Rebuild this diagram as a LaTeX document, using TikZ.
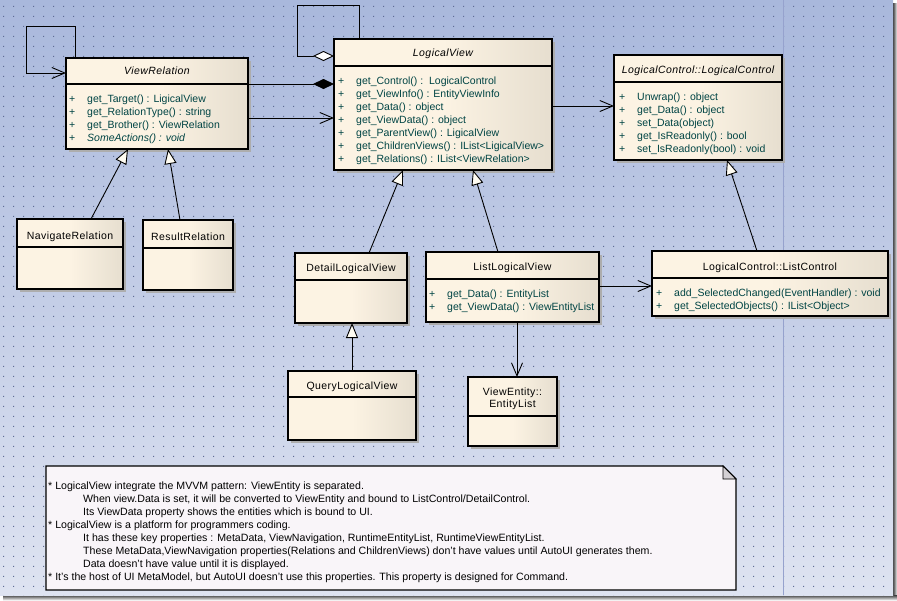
\documentclass[tikz,border=0pt]{standalone}
\usepackage{fontspec}
\setmainfont{Liberation Sans}
\newfontfamily\titlefont[LetterSpace=4]{Liberation Sans}
\usetikzlibrary{arrows.meta,shadows,patterns.meta,calc}

\definecolor{bgtop}{RGB}{169,184,220}
\definecolor{bgbot}{RGB}{222,227,241}
\definecolor{boxL}{RGB}{252,243,227}
\definecolor{boxR}{RGB}{230,222,207}
\definecolor{attrc}{RGB}{0,68,68}
\definecolor{dotc}{RGB}{95,108,150}
\definecolor{notefill}{RGB}{249,245,249}
\definecolor{foldc}{RGB}{212,208,212}
\definecolor{pageline}{RGB}{150,162,205}
\definecolor{trifill}{RGB}{255,252,242}

\tikzdeclarepattern{
  name=griddots,
  type=uncolored,
  bounding box={(0pt,0pt) and (10pt,10pt)},
  tile size={(10pt,10pt)},
  code={\fill (4.5pt,4.5pt) rectangle (5.5pt,5.5pt);}
}

\tikzset{
  umlbox/.style={draw=black, line width=1.1pt, inner sep=0pt, outer sep=0pt,
    anchor=north west, left color=boxL, right color=boxR, middle color=boxL,
    drop shadow={shadow xshift=3pt, shadow yshift=-3pt, fill=black!32, opacity=1}},
  ctitle/.style={font=\titlefont\fontsize{10.5}{12}\selectfont, inner sep=0pt, anchor=mid, text=black},
  attr/.style={font=\fontsize{10.5}{12}\selectfont, inner sep=0pt, anchor=mid west, text=attrc},
  divline/.style={draw=black, line width=1.1pt},
  notetext/.style={font=\fontsize{10.6}{12}\selectfont, inner sep=0pt, anchor=mid west, text=black},
  assoc/.style={draw=black, line width=0.9pt, line join=miter, -{Straight Barb[length=13pt,width=11pt]}},
  gen/.style={draw=black, line width=0.9pt, -{Triangle[length=15pt,width=12pt,fill=trifill]}},
  aggr/.style={draw=black, line width=0.9pt, line join=miter, -{Diamond[length=21pt,width=10pt,fill=white]}},
  compo/.style={draw=black, line width=0.9pt, -{Diamond[length=21pt,width=10pt,fill=black]}},
}

\begin{document}
\begin{tikzpicture}[x=1pt, y=-1pt]
\useasboundingbox (0,0) rectangle (897,600);
% page background, shadow and grid
\fill[white] (0,0) rectangle (897,600);
\shade[left color=black!75, right color=black!5] (893,3) rectangle (897,600);
\shade[top color=black!75, bottom color=black!5] (3,595) rectangle (897,600);
\shade[top color=bgtop, bottom color=bgbot] (0,0) rectangle (893,595);
\fill[pattern=griddots, pattern color=dotc] (0,0) rectangle (893,595);
\draw[pageline, line width=0.8pt] (783,0) -- (783,595);

% ---- class boxes ----
\node[umlbox, minimum width=182pt, minimum height=91pt] (vr) at (66,58) {};
\node[umlbox, minimum width=218pt, minimum height=131pt] (lv) at (334,39) {};
\node[umlbox, minimum width=168pt, minimum height=105pt] (lc) at (614,55) {};
\node[umlbox, minimum width=106pt, minimum height=70pt] (nav) at (17,219) {};
\node[umlbox, minimum width=90pt, minimum height=70pt] (res) at (143,220) {};
\node[umlbox, minimum width=112pt, minimum height=70pt] (detail) at (295,253) {};
\node[umlbox, minimum width=128pt, minimum height=69pt] (query) at (288,371) {};
\node[umlbox, minimum width=173pt, minimum height=70pt] (list) at (426,252) {};
\node[umlbox, minimum width=89pt, minimum height=69pt] (ent) at (468,377) {};
\node[umlbox, minimum width=236pt, minimum height=65pt] (lctl) at (652,251) {};

% dividers
\draw[divline] ($(vr.north west)+(0,26)$) -- ($(vr.north east)+(0,26)$);
\draw[divline] ($(lv.north west)+(0,27)$) -- ($(lv.north east)+(0,27)$);
\draw[divline] ($(lc.north west)+(0,27)$) -- ($(lc.north east)+(0,27)$);
\draw[divline] ($(nav.north west)+(0,28)$) -- ($(nav.north east)+(0,28)$);
\draw[divline] ($(res.north west)+(0,28)$) -- ($(res.north east)+(0,28)$);
\draw[divline] ($(detail.north west)+(0,27)$) -- ($(detail.north east)+(0,27)$);
\draw[divline] ($(query.north west)+(0,26)$) -- ($(query.north east)+(0,26)$);
\draw[divline] ($(list.north west)+(0,27)$) -- ($(list.north east)+(0,27)$);
\draw[divline] ($(ent.north west)+(0,39)$) -- ($(ent.north east)+(0,39)$);
\draw[divline] ($(lctl.north west)+(0,27)$) -- ($(lctl.north east)+(0,27)$);

% titles
\node[ctitle] (vr-t) at ($(vr.north)+(0,14)$) {\itshape ViewRelation};
\node[ctitle] (lv-t) at ($(lv.north)+(0,15)$) {\itshape LogicalView};
\node[ctitle] (lc-t) at ($(lc.north)+(0,16)$) {\itshape LogicalControl::LogicalControl};
\node[ctitle] (nav-t) at ($(nav.north)+(0,18)$) {NavigateRelation};
\node[ctitle] (res-t) at ($(res.north)+(0,18)$) {ResultRelation};
\node[ctitle] (detail-t) at ($(detail.north)+(0,16)$) {DetailLogicalView};
\node[ctitle] (query-t) at ($(query.north)+(0,16)$) {QueryLogicalView};
\node[ctitle] (list-t) at ($(list.north)+(0,16)$) {ListLogicalView};
\node[ctitle] (ent-t1) at ($(ent.north)+(0,16)$) {ViewEntity::};
\node[ctitle] (ent-t2) at ($(ent.north)+(0,28)$) {EntityList};
\node[ctitle] (lctl-t) at ($(lctl.north)+(0,17)$) {LogicalControl::ListControl};

% attributes
\foreach \t [count=\i, evaluate=\i as \dy using 42+13*(\i-1)] in
  {{get\_Target() : LigicalView}, {get\_RelationType() : string}, {get\_Brother() : ViewRelation}, {\itshape SomeActions() : void}}
  \node[attr] (vr-a\i) at ($(vr.north west)+(3,\dy)$) {\makebox[18pt][l]{+}\t};
\foreach \t [count=\i, evaluate=\i as \dy using 43+13*(\i-1)] in
  {{get\_Control() :\ \ LogicalControl}, {get\_ViewInfo() : EntityViewInfo}, {get\_Data() : object}, {get\_ViewData() : object},
   {get\_ParentView() : LigicalView}, {get\_ChildrenViews() : IList<LigicalView>}, {get\_Relations() : IList<ViewRelation>}}
  \node[attr] (lv-a\i) at ($(lv.north west)+(4,\dy)$) {\makebox[18pt][l]{+}\t};
\foreach \t [count=\i, evaluate=\i as \dy using 43+13*(\i-1)] in
  {{Unwrap() : object}, {get\_Data() : object}, {set\_Data(object)}, {get\_IsReadonly() : bool}, {set\_IsReadonly(bool) : void}}
  \node[attr] (lc-a\i) at ($(lc.north west)+(5,\dy)$) {\makebox[18pt][l]{+}\t};
\foreach \t [count=\i, evaluate=\i as \dy using 43+13*(\i-1)] in
  {{get\_Data() : EntityList}, {get\_ViewData() : ViewEntityList}}
  \node[attr] (list-a\i) at ($(list.north west)+(3,\dy)$) {\makebox[18pt][l]{+}\t};
\foreach \t [count=\i, evaluate=\i as \dy using 43+13*(\i-1)] in
  {{add\_SelectedChanged(EventHandler) : void}, {get\_SelectedObjects() : IList<Object>}}
  \node[attr] (lctl-a\i) at ($(lctl.north west)+(4,\dy)$) {\makebox[18pt][l]{+}\t};

% ---- connectors ----
\draw[assoc] ($(vr.north west)+(9,0)$) -- ++(0,-32) -- ++(-49,0) |- ($(vr.north west)+(0,15)$);
\draw[aggr] ($(lv.north west)+(25,0)$) -- ++(0,-34) -- ++(-62,0) |- ($(lv.north west)+(0,17)$);
\draw[compo] ($(vr.north east)+(0,26)$) -- ($(lv.north west)+(0,45)$);
\draw[assoc] ($(vr.north east)+(0,60)$) -- ($(lv.north west)+(0,79)$);
\draw[assoc] ($(lv.north east)+(0,67)$) -- ($(lc.north west)+(0,51)$);
\draw[gen] ($(nav.north west)+(74,0)$) -- ($(vr.south west)+(62,0)$);
\draw[gen] ($(res.north west)+(37,0)$) -- ($(vr.south west)+(102,0)$);
\draw[gen] ($(detail.north west)+(74,0)$) -- ($(lv.south west)+(69,0)$);
\draw[gen] ($(list.north west)+(72,0)$) -- ($(lv.south west)+(139,0)$);
\draw[gen] ($(query.north west)+(64,0)$) -- ($(detail.south west)+(57,0)$);
\draw[gen] ($(lctl.north west)+(105,0)$) -- ($(lc.south west)+(113,0)$);
\draw[assoc] ($(list.north east)+(0,34)$) -- ($(lctl.north west)+(0,35)$);
\draw[assoc] ($(list.south west)+(91,0)$) -- ($(ent.north west)+(49,0)$);

% ---- note ----
\node[inner sep=0pt, outer sep=0pt, anchor=north west, minimum width=690pt, minimum height=124pt] (note) at (46,466) {};
\draw[fill=notefill, line width=1.1pt, line join=miter] (note.north west) -- ($(note.north east)+(-13,0)$) -- ($(note.north east)+(0,13)$)
  -- (note.south east) -- (note.south west) -- cycle;
\draw[fill=foldc, line width=0.8pt, line join=miter] ($(note.north east)+(-13,0)$) -- ($(note.north east)+(-13,13)$) -- ($(note.north east)+(0,13)$) -- cycle;
\node[notetext] (n1) at ($(note.north west)+(2,21)$) {* LogicalView integrate the MVVM pattern: ViewEntity is separated.};
\node[notetext] (n2) at ($(note.north west)+(37,34)$) {When view.Data is set, it will be converted to ViewEntity and bound to ListControl/DetailControl.};
\node[notetext] (n3) at ($(note.north west)+(37,47)$) {Its ViewData property shows the entities which is bound to UI.};
\node[notetext] (n4) at ($(note.north west)+(2,60)$) {* LogicalView is a platform for programmers coding.};
\node[notetext] (n5) at ($(note.north west)+(37,73)$) {It has these key properties : MetaData, ViewNavigation, RuntimeEntityList, RuntimeViewEntityList.};
\node[notetext] (n6) at ($(note.north west)+(37,86)$) {These MetaData,ViewNavigation properties(Relations and ChildrenViews) don't have values until AutoUI generates them.};
\node[notetext] (n7) at ($(note.north west)+(37,99)$) {Data doesn't have value until it is displayed.};
\node[notetext] (n8) at ($(note.north west)+(2,112)$) {* It's the host of UI MetaModel, but AutoUI doesn't use this properties. This property is designed for Command.};
\end{tikzpicture}
\end{document}
